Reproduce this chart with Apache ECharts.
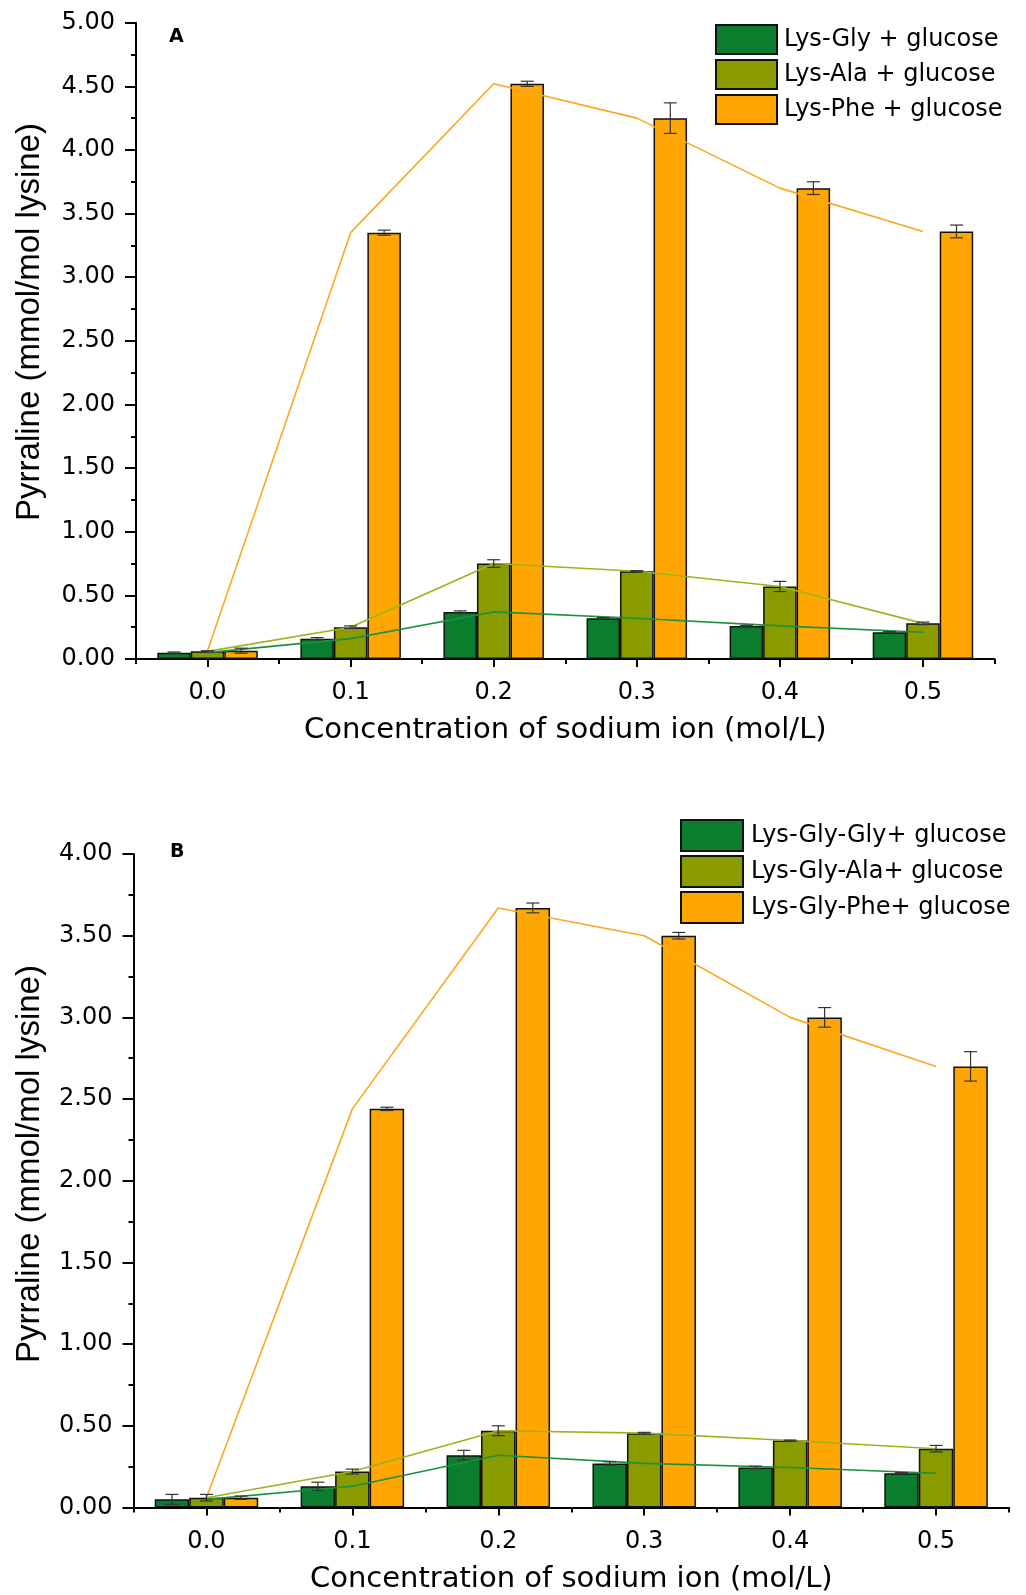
<!DOCTYPE html>
<html>
<head>
<meta charset="utf-8">
<script src="https://cdn.jsdelivr.net/npm/echarts@6/dist/echarts.min.js"></script>
<style>
html,body{margin:0;padding:0;background:#fff;}
#c{width:1026px;height:1595px;}
</style>
</head>
<body>
<div id="c"></div>
<script>
// ---------- data ----------
const categories = ['0.0', '0.1', '0.2', '0.3', '0.4', '0.5'];

// Panel A
const namesA = ['Lys-Gly + glucose', 'Lys-Ala + glucose', 'Lys-Phe + glucose'];
const A_gly = [0.05, 0.16, 0.37, 0.32, 0.26, 0.21];
const A_ala = [0.06, 0.25, 0.75, 0.69, 0.57, 0.28];
const A_phe = [0.065, 3.35, 4.52, 4.25, 3.70, 3.36];
const A_glyErr = [0.005, 0.008, 0.008, 0.005, 0.004, 0.005];
const A_alaErr = [0.005, 0.01, 0.03, 0.004, 0.04, 0.01];
const A_pheErr = [0.02, 0.02, 0.02, 0.12, 0.05, 0.05];

// Panel B
const namesB = ['Lys-Gly-Gly+ glucose', 'Lys-Gly-Ala+ glucose', 'Lys-Gly-Phe+ glucose'];
const B_gly = [0.05, 0.13, 0.32, 0.27, 0.245, 0.21];
const B_ala = [0.06, 0.22, 0.47, 0.455, 0.41, 0.36];
const B_phe = [0.06, 2.44, 3.67, 3.50, 3.00, 2.70];
const B_glyErr = [0.03, 0.025, 0.03, 0.01, 0.008, 0.004];
const B_alaErr = [0.02, 0.015, 0.03, 0.005, 0.003, 0.02];
const B_pheErr = [0.01, 0.01, 0.03, 0.02, 0.06, 0.09];

const yTicksA = {min: 0, max: 5, interval: 0.5};
const yTicksB = {min: 0, max: 4, interval: 0.5};

const xTitle = 'Concentration of sodium ion (mol/L)';
const yTitle = 'Pyrraline (mmol/mol lysine)';

// ---------- styles ----------
const FONT = 'DejaVu Sans';
const barColors = ['#0b7d2f', '#8a9b00', '#ffa600'];
const lineColors = ['#1b9140', '#9db31a', '#ffa61c'];

function barSeries(name, data, ci, axisIdx, bw) {
  return {
    type: 'bar', name: name, data: data,
    xAxisIndex: axisIdx * 2, yAxisIndex: axisIdx,
    barWidth: bw, barGap: '0%',
    itemStyle: {color: barColors[ci], borderColor: '#111', borderWidth: 1.5},
    z: 2, silent: true
  };
}
function lineSeries(name, data, ci, axisIdx) {
  return {
    type: 'line', name: name + ' line', data: data,
    xAxisIndex: axisIdx * 2, yAxisIndex: axisIdx,
    symbol: 'none', smooth: false,
    lineStyle: {color: lineColors[ci], width: 1.6},
    z: 3, silent: true
  };
}
function errSeries(name, vals, errs, ci, axisIdx, bw) {
  const off = (ci - 1) * bw;
  return {
    type: 'custom', name: name + ' err',
    xAxisIndex: axisIdx * 2, yAxisIndex: axisIdx,
    data: vals.map((v, i) => [i, v, errs[i]]),
    z: 4, silent: true,
    renderItem: function (params, api) {
      const i = api.value(0), v = api.value(1), e = api.value(2);
      const hi = api.coord([i, v + e]);
      const lo = api.coord([i, v - e]);
      const x = hi[0] + off;
      const cw = 6.5;
      const st = {stroke: '#333', lineWidth: 1.2};
      return {
        type: 'group',
        children: [
          {type: 'line', shape: {x1: x, y1: hi[1], x2: x, y2: lo[1]}, style: st},
          {type: 'line', shape: {x1: x - cw, y1: hi[1], x2: x + cw, y2: hi[1]}, style: st},
          {type: 'line', shape: {x1: x - cw, y1: lo[1], x2: x + cw, y2: lo[1]}, style: st}
        ]
      };
    }
  };
}

function xAxes(gi) {
  return [
    {
      type: 'category', gridIndex: gi, position: 'bottom', data: categories, boundaryGap: true,
      axisLine: {show: true, lineStyle: {color: '#000', width: 2}},
      axisTick: {show: true, alignWithLabel: true, length: 8, lineStyle: {color: '#000', width: 2}},
      axisLabel: {color: '#000', fontSize: 24, fontFamily: FONT, margin: 22},
      splitLine: {show: false},
      name: xTitle, nameLocation: 'middle', nameGap: 57,
      nameTextStyle: {color: '#000', fontSize: 29, fontFamily: FONT}
    },
    {
      type: 'category', gridIndex: gi, position: 'bottom', offset: 0, data: categories, boundaryGap: true,
      axisLine: {show: false},
      axisTick: {show: true, alignWithLabel: false, length: 5, lineStyle: {color: '#000', width: 2}},
      axisLabel: {show: false},
      splitLine: {show: false}
    }
  ];
}
function yAxis(gi, t) {
  return {
    type: 'value', gridIndex: gi, min: t.min, max: t.max, interval: t.interval,
    axisLine: {show: true, lineStyle: {color: '#000', width: 2}},
    axisTick: {show: true, length: 11, lineStyle: {color: '#000', width: 2}},
    minorTick: {show: true, splitNumber: 2, length: 5, lineStyle: {color: '#000', width: 2}},
    splitLine: {show: false},
    axisLabel: {color: '#000', fontSize: 24, fontFamily: FONT, margin: 21,
      formatter: v => v.toFixed(2)}
  };
}

const bwA = 33.5, bwB = 34.5;
const seriesA = [A_gly, A_ala, A_phe], errA = [A_glyErr, A_alaErr, A_pheErr];
const seriesB = [B_gly, B_ala, B_phe], errB = [B_glyErr, B_alaErr, B_pheErr];

const series = [];
seriesA.forEach((d, k) => series.push(barSeries(namesA[k], d, k, 0, bwA)));
seriesB.forEach((d, k) => series.push(barSeries(namesB[k], d, k, 1, bwB)));
seriesA.forEach((d, k) => series.push(lineSeries(namesA[k], d, k, 0)));
seriesB.forEach((d, k) => series.push(lineSeries(namesB[k], d, k, 1)));
seriesA.forEach((d, k) => series.push(errSeries(namesA[k], d, errA[k], k, 0, bwA)));
seriesB.forEach((d, k) => series.push(errSeries(namesB[k], d, errB[k], k, 1, bwB)));

const chart = echarts.init(document.getElementById('c'), null, {renderer: 'canvas'});
chart.setOption({
  backgroundColor: '#fff',
  animation: false,
  textStyle: {fontFamily: FONT},
  grid: [
    {left: 136, width: 858.5, top: 22.7, height: 636.3},
    {left: 133.5, width: 875.5, top: 854, height: 653.5}
  ],
  xAxis: xAxes(0).concat(xAxes(1)),
  yAxis: [yAxis(0, yTicksA), yAxis(1, yTicksB)],
  legend: [
    {data: namesA, orient: 'vertical', left: 715, top: 24, padding: 0,
     itemWidth: 61, itemHeight: 29, itemGap: 4, icon: 'rect', selectedMode: false,
     textStyle: {color: '#000', fontSize: 24, fontFamily: FONT, padding: [0, 0, 0, 2]}},
    {data: namesB, orient: 'vertical', left: 680, top: 819, padding: 0,
     itemWidth: 62, itemHeight: 31, itemGap: 3, icon: 'rect', selectedMode: false,
     textStyle: {color: '#000', fontSize: 24, fontFamily: FONT, padding: [0, 0, 0, 3]}}
  ],
  title: [
    {text: 'A', left: 169, top: 28, padding: 0,
     textStyle: {fontSize: 19, fontWeight: 'bold', color: '#000', fontFamily: FONT}},
    {text: 'B', left: 170, top: 843, padding: 0,
     textStyle: {fontSize: 19, fontWeight: 'bold', color: '#000', fontFamily: FONT}}
  ],
  graphic: [
    {type: 'text', x: 30, y: 322, rotation: Math.PI / 2,
     style: {text: yTitle, fontSize: 33, fontFamily: 'Liberation Sans', fill: '#000', align: 'center', verticalAlign: 'middle'}},
    {type: 'text', x: 30, y: 1164, rotation: Math.PI / 2,
     style: {text: yTitle, fontSize: 33, fontFamily: 'Liberation Sans', fill: '#000', align: 'center', verticalAlign: 'middle'}}
  ],
  series: series
});
</script>
</body>
</html>
